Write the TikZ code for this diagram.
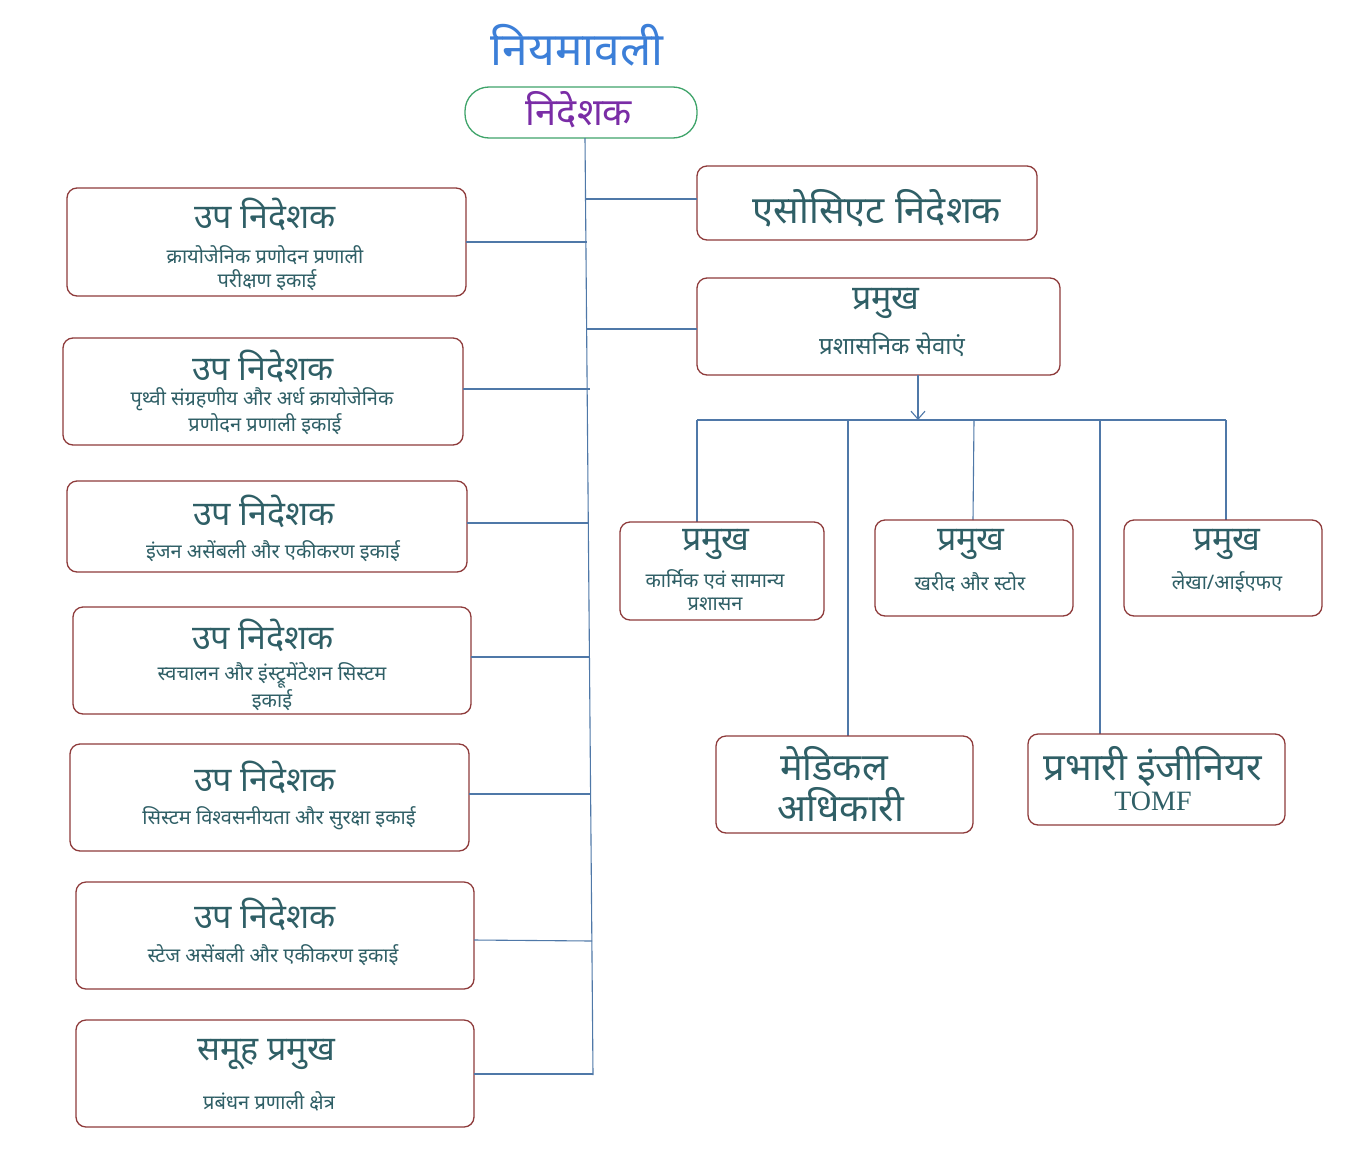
\documentclass[tikz,border=0pt]{standalone}
\usepackage{fontspec}
\setmainfont[Script=Devanagari]{Noto Sans}
\newfontfamily\latinser{Liberation Serif}
\usetikzlibrary{arrows.meta}
\definecolor{txt}{HTML}{2F5F66}
\definecolor{bord}{HTML}{8E3B3B}
\definecolor{ln}{HTML}{4F78A8}
\definecolor{ttl}{HTML}{3C7FD8}
\definecolor{pur}{HTML}{7A2DA6}
\definecolor{grn}{HTML}{3FA46A}
\tikzset{
 box/.style={draw=bord,line width=1.3pt,rounded corners=10pt},
 hd/.style={text=txt,font=\fontsize{34}{36}\selectfont,inner sep=0pt},
 big/.style={text=txt,font=\fontsize{38}{40}\selectfont,inner sep=0pt},
 sb/.style={text=txt,font=\fontsize{20}{22}\selectfont,inner sep=0pt},
 cn/.style={draw=ln,line width=1.1pt},
}
\begin{document}
\begin{tikzpicture}[x=1pt,y=-1pt]
\fill[white] (0,0) rectangle (1367,1175);
\useasboundingbox (0,0) rectangle (1367,1175);
\node[text=ttl,font=\fontsize{46}{48}\selectfont,inner sep=0pt] (title) at (577,45) {नियमावली};
\draw[draw=grn,line width=1.3pt,rounded corners=24pt] (465,87) rectangle (697,138);
\node[text=pur,font=\fontsize{38}{40}\selectfont,inner sep=0pt] (dir) at (579,110) {निदेशक};
\coordinate (mt) at (585,138); \coordinate (mb) at (593,1075);
\draw[cn] (mt) -- (mb);
% left boxes
\draw[box] (67,188) rectangle (466,296);
\node[hd] (l1) at (265,214) {उप निदेशक};
\node[sb] at (265,255) {क्रायोजेनिक प्रणोदन प्रणाली};
\node[sb] at (267,280) {परीक्षण इकाई};
\draw[cn] (466,242) -- (587,242);
\draw[box] (63,338) rectangle (463,445);
\node[hd] (l2) at (263,366) {उप निदेशक};
\node[sb] at (262,399) {पृथ्वी संग्रहणीय और अर्ध क्रायोजेनिक};
\node[sb] at (265,424) {प्रणोदन प्रणाली इकाई};
\draw[cn] (463,389) -- (590,389);
\draw[box] (67,481) rectangle (467,572);
\node[hd] (l3) at (264,511) {उप निदेशक};
\node[sb] at (273,551) {इंजन असेंबली और एकीकरण इकाई};
\draw[cn] (467,523) -- (589,523);
\draw[box] (73,607) rectangle (471,714);
\node[hd] (l4) at (263,635) {उप निदेशक};
\node[sb] at (272,675) {स्वचालन और इंस्ट्रूमेंटेशन सिस्टम};
\node[sb] at (272,700) {इकाई};
\draw[cn] (471,657) -- (590,657);
\draw[box] (70,744) rectangle (469,851);
\node[hd] (l5) at (265,777) {उप निदेशक};
\node[sb] at (279,818) {सिस्टम विश्वसनीयता और सुरक्षा इकाई};
\draw[cn] (469,794) -- (591,794);
\draw[box] (76,882) rectangle (474,989);
\node[hd] (l6) at (265,914) {उप निदेशक};
\node[sb] at (273,955) {स्टेज असेंबली और एकीकरण इकाई};
\draw[cn] (474,940) -- (592,941);
\draw[box] (76,1020) rectangle (474,1127);
\node[hd] (l7) at (266,1055) {समूह प्रमुख};
\node[sb] at (269,1101) {प्रबंधन प्रणाली क्षेत्र};
\draw[cn] (474,1074) -- (593,1074);
% right
\draw[box] (697,166) rectangle (1037,240);
\node[big] (assoc) at (877,208) {एसोसिएट निदेशक};
\draw[cn] (586,199) -- (697,199);
\draw[box] (697,278) rectangle (1060,375);
\node[hd] (adm) at (886,303) {प्रमुख};
\node[sb,font=\fontsize{24}{26}\selectfont] at (892,345) {प्रशासनिक सेवाएं};
\draw[cn] (587,329) -- (697,329);
\coordinate (ab) at (918,375); \coordinate (aj) at (918,420);
\draw[cn,-{Straight Barb[length=8pt,width=14pt]}] (ab) -- (aj);
\draw[cn] (697,420) -- (1226,420);
\draw[cn] (697,420) -- (697,522);
\draw[cn] (848,420) -- (848,736);
\draw[cn] (974,420) -- (973,520);
\draw[cn] (1100,420) -- (1100,734);
\draw[cn] (1226,420) -- (1226,520);
\draw[box] (620,522) rectangle (824,620);
\node[hd] (c1) at (716,544) {प्रमुख};
\node[sb] at (715,579) {कार्मिक एवं सामान्य};
\node[sb] at (715,604) {प्रशासन};
\draw[box] (875,520) rectangle (1073,616);
\node[hd] (c2) at (971,544) {प्रमुख};
\node[sb] at (970,582) {खरीद और स्टोर};
\draw[box] (1124,520) rectangle (1322,616);
\node[hd] (c3) at (1227,544) {प्रमुख};
\node[sb] at (1227,582) {लेखा/आईएफए};
\draw[box] (716,736) rectangle (973,833);
\node[big] (med) at (834,764) {मेडिकल};
\node[big] at (841,805) {अधिकारी};
\draw[box] (1028,734) rectangle (1285,825);
\node[big] (eng) at (1153,767) {प्रभारी इंजीनियर};
\node[text=txt,font=\latinser\fontsize{28}{30}\selectfont,inner sep=0pt] at (1153,801) {TOMF};
\end{tikzpicture}
\end{document}
